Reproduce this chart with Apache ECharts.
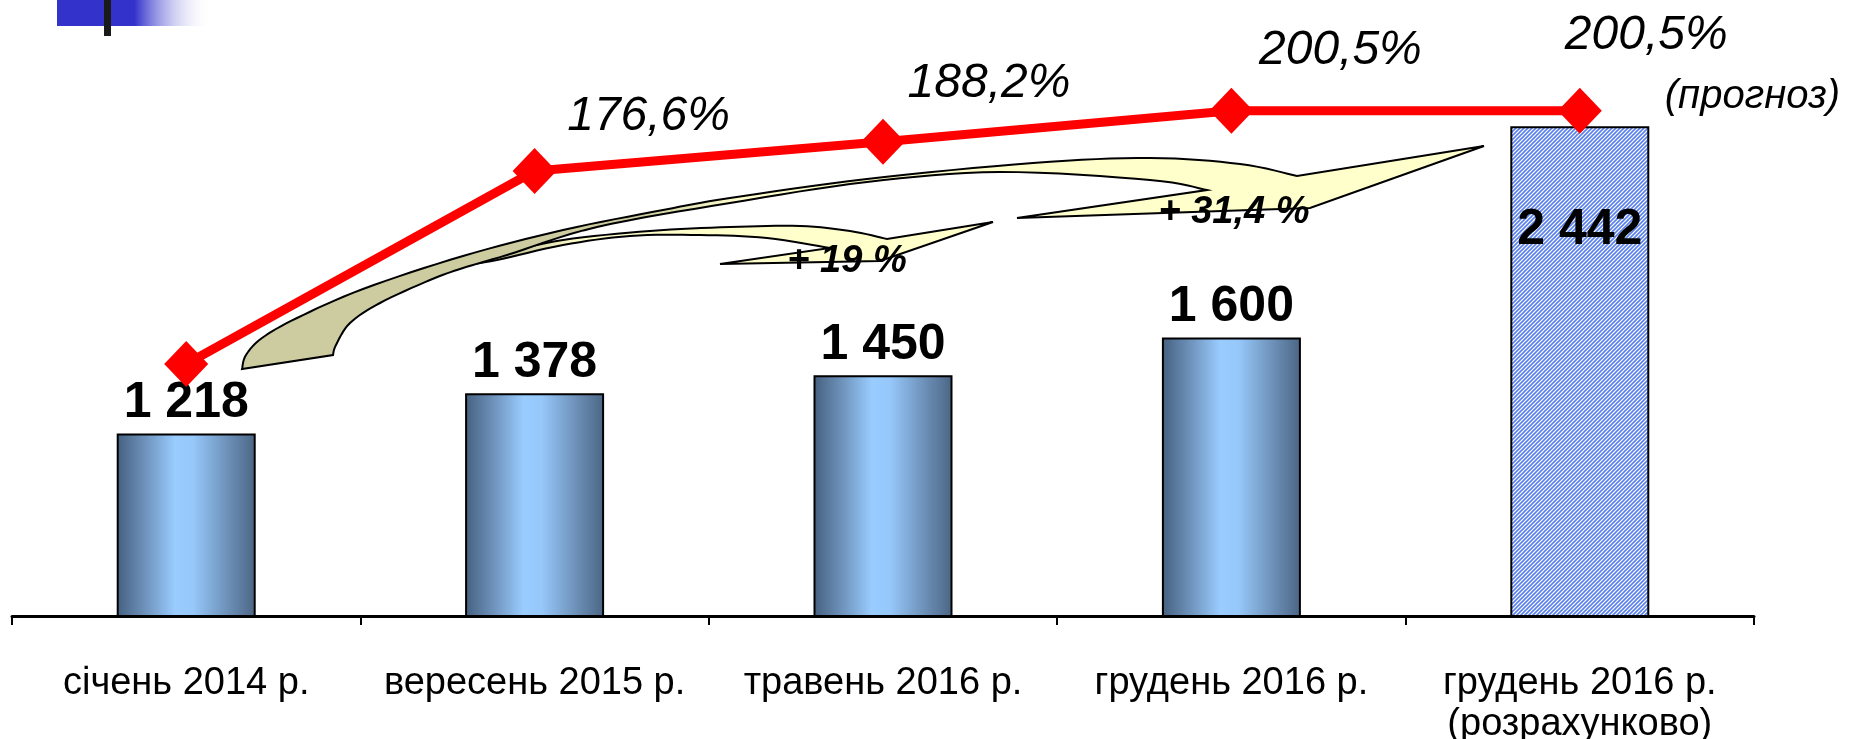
<!DOCTYPE html>
<html>
<head>
<meta charset="utf-8">
<script src="https://cdn.jsdelivr.net/npm/echarts@6/dist/echarts.min.js"></script>
<style>
  html, body { margin: 0; background: #fff; }
  #chart { width: 1861px; height: 739px; }
</style>
</head>
<body>
<div id="chart"></div>
<script>
const categories = ['січень 2014 р.', 'вересень 2015 р.', 'травень 2016 р.', 'грудень 2016 р.', 'грудень 2016 р.\n(розрахунково)'];
const amounts = [1218, 1378, 1450, 1600, 2442];
const shares = [100, 176.6, 188.2, 200.5, 200.5];
const growthNotes = ['+ 19 %', '+ 31,4 %'];
const forecastNote = '(прогноз)';

const FONT = "'Liberation Sans', Arial, sans-serif";

function spaced(v) {
    return String(v).replace(/\B(?=(\d{3})+(?!\d))/g, ' ');
}
function pct(v) {
    return v.toFixed(1).replace('.', ',') + '%';
}

// striped fill for the estimated bar
function hatch() {
    var c = document.createElement('canvas');
    c.width = 4; c.height = 4;
    var g = c.getContext('2d');
    g.fillStyle = '#ffffff';
    g.fillRect(0, 0, 4, 4);
    g.strokeStyle = '#5a80ec';
    g.lineWidth = 1.6;
    g.beginPath();
    g.moveTo(-2, 2); g.lineTo(2, -2);
    g.moveTo(-1, 5); g.lineTo(5, -1);
    g.moveTo(2, 6); g.lineTo(6, 2);
    g.stroke();
    return c;
}

// catmull-rom through the given points
function curve(pts, steps) {
    var out = [];
    for (var i = 0; i < pts.length - 1; i++) {
        var p0 = pts[Math.max(i - 1, 0)], p1 = pts[i], p2 = pts[i + 1], p3 = pts[Math.min(i + 2, pts.length - 1)];
        for (var s = 0; s < steps; s++) {
            var t = s / steps, t2 = t * t, t3 = t2 * t;
            out.push([0, 1].map(function (k) {
                return 0.5 * (2 * p1[k] + (-p0[k] + p2[k]) * t +
                    (2 * p0[k] - 5 * p1[k] + 4 * p2[k] - p3[k]) * t2 +
                    (-p0[k] + 3 * p1[k] - 3 * p2[k] + p3[k]) * t3);
            }));
        }
    }
    out.push(pts[pts.length - 1]);
    return out;
}

function arrow(top, head, bottom) {
    return curve(top, 8).concat(head.slice(0, -1)).concat(curve(bottom, 8));
}

var bigArrow = arrow(
    [[242, 369], [246, 355], [262, 338], [297, 318], [363, 289], [463, 256], [563, 230], [663, 210], [730, 198], [867, 179], [1033, 163], [1150, 158], [1240, 164], [1297, 176]],
    [[1297, 176], [1484, 146], [1310, 208], [1017, 218], [1207, 190]],
    [[1207, 190], [1150, 180], [1000, 172], [867, 182], [730, 203], [597, 227], [507, 255], [463, 268], [430, 280], [380, 303], [350, 323], [336, 345], [333, 355]]
);
var smallArrow = arrow(
    [[458, 262], [500, 254], [563, 240], [650, 231], [730, 227], [800, 226], [850, 231], [887, 239]],
    [[887, 239], [993, 222], [880, 261], [720, 264], [830, 248]],
    [[830, 248], [767, 238], [700, 235], [630, 236], [563, 245], [497, 260], [458, 266]]
);

var barFill = {
    type: 'linear', x: 0, y: 0, x2: 1, y2: 0,
    colorStops: [
        { offset: 0, color: '#45607f' },
        { offset: 0.2, color: '#6d91ba' },
        { offset: 0.42, color: '#99ccff' },
        { offset: 0.55, color: '#96c8fa' },
        { offset: 0.8, color: '#6d90b8' },
        { offset: 1, color: '#4a6584' }
    ]
};

var barData = amounts.map(function (v, i) {
    if (i < amounts.length - 1) return v;
    return {
        value: v,
        itemStyle: { color: { image: hatch(), repeat: 'repeat' } },
        label: { position: 'insideTop', distance: 79 }
    };
});

var labelOffsets = [null, [114, -54], [106, -58], [109, -60]];
var lineData = shares.map(function (v, i) {
    if (i === 0) return { value: v, label: { show: false } };
    if (i === shares.length - 1) {
        return {
            value: v,
            label: {
                align: 'left', verticalAlign: 'top', offset: [-15, -104],
                formatter: '{a|' + pct(v) + '}\n{b|' + forecastNote + '}',
                rich: {
                    a: { fontSize: 48, lineHeight: 58, fontStyle: 'italic', fontFamily: FONT, color: '#000' },
                    b: { fontSize: 40, lineHeight: 64, fontStyle: 'italic', fontFamily: FONT, color: '#000', padding: [0, 0, 0, 100] }
                }
            }
        };
    }
    return { value: v, label: { offset: labelOffsets[i] } };
});

var chartDom = document.getElementById('chart');
var myChart = echarts.init(chartDom);
var option = {
    backgroundColor: '#ffffff',
    animation: false,
    grid: { left: 12, right: 107, top: 16, bottom: 123, containLabel: false, outerBoundsMode: 'none' },
    xAxis: {
        type: 'category',
        data: categories,
        axisLine: { lineStyle: { color: '#000', width: 3 } },
        axisTick: { show: true, interval: 0, length: 9, lineStyle: { color: '#000', width: 2 } },
        axisLabel: { interval: 0, margin: 47, fontSize: 38, lineHeight: 41, color: '#000', fontFamily: FONT }
    },
    yAxis: [
        { type: 'value', min: 490, max: 2882, show: false },
        { type: 'value', min: 0, max: 238.1, show: false }
    ],
    series: [
        {
            type: 'bar',
            data: barData,
            barWidth: 139,
            itemStyle: { color: barFill, borderColor: '#000', borderWidth: 2 },
            label: {
                show: true,
                position: 'top',
                distance: 5,
                fontSize: 50,
                lineHeight: 50,
                fontWeight: 'bold',
                fontFamily: FONT,
                color: '#000',
                formatter: function (p) { return spaced(p.value); }
            },
            z: 2
        },
        {
            type: 'line',
            yAxisIndex: 1,
            data: lineData,
            symbol: 'diamond',
            symbolSize: [44, 46],
            lineStyle: { color: '#ff0000', width: 9 },
            itemStyle: { color: '#ff0000' },
            label: {
                show: true,
                position: 'inside',
                align: 'center',
                verticalAlign: 'middle',
                fontSize: 48,
                fontStyle: 'italic',
                fontFamily: FONT,
                color: '#000',
                formatter: function (p) { return pct(p.value); }
            },
            z: 5
        }
    ],
    graphic: [
        {
            type: 'rect', shape: { x: 57, y: 0, width: 155, height: 26 },
            style: { fill: { type: 'linear', x: 0, y: 0, x2: 1, y2: 0, colorStops: [
                { offset: 0, color: '#3333cc' }, { offset: 0.5, color: '#3333cc' }, { offset: 1, color: 'rgba(255,255,255,0)' }] } }
        },
        { type: 'rect', shape: { x: 104, y: 0, width: 7, height: 36 }, style: { fill: '#1a1a1a' } },
        {
            type: 'polygon', shape: { points: smallArrow },
            style: {
                fill: { type: 'linear', global: true, x: 440, y: 0, x2: 993, y2: 0, colorStops: [
                    { offset: 0, color: '#cccca0' }, { offset: 0.15, color: '#cccca0' }, { offset: 0.25, color: '#ffffcc' }, { offset: 1, color: '#ffffcc' }] },
                stroke: '#000', lineWidth: 2
            }
        },
        {
            type: 'polygon', shape: { points: bigArrow },
            style: {
                fill: { type: 'linear', global: true, x: 242, y: 0, x2: 1484, y2: 0, colorStops: [
                    { offset: 0, color: '#cccca0' }, { offset: 0.32, color: '#cccca0' }, { offset: 0.4, color: '#ffffcc' }, { offset: 1, color: '#ffffcc' }] },
                stroke: '#000', lineWidth: 2
            }
        },
        {
            type: 'text', x: 847, y: 262,
            style: { text: growthNotes[0], font: 'italic bold 38px ' + FONT, fill: '#000', align: 'center', verticalAlign: 'middle' }
        },
        {
            type: 'text', x: 1234, y: 213,
            style: { text: growthNotes[1], font: 'italic bold 38px ' + FONT, fill: '#000', align: 'center', verticalAlign: 'middle' }
        }
    ]
};

option && myChart.setOption(option);
</script>
</body>
</html>
